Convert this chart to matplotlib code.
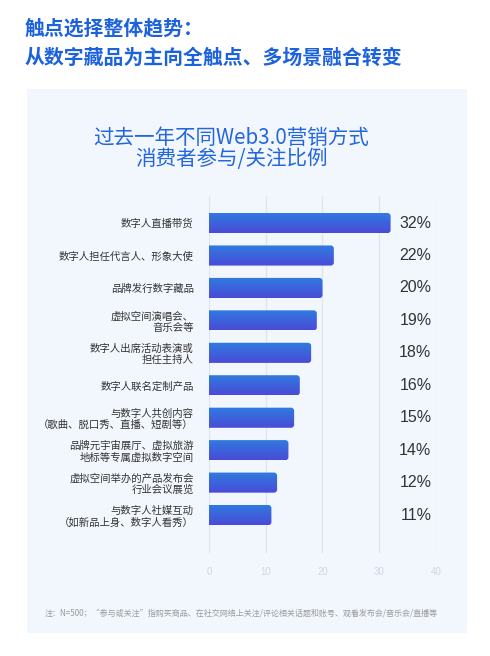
import matplotlib.pyplot as plt
import numpy as np
from matplotlib.patches import FancyBboxPatch, Rectangle
from matplotlib.colors import LinearSegmentedColormap

# data
categories = [
    "数字人直播带货",
    "数字人担任代言人、形象大使",
    "品牌发行数字藏品",
    "虚拟空间演唱会、\n音乐会等",
    "数字人出席活动表演或\n担任主持人",
    "数字人联名定制产品",
    "与数字人共创内容\n（歌曲、脱口秀、直播、短剧等）",
    "品牌元宇宙展厅、虚拟旅游\n地标等专属虚拟数字空间",
    "虚拟空间举办的产品发布会\n行业会议展览",
    "与数字人社媒互动\n（如新品上身、数字人看秀）",
]
values = [32, 22, 20, 19, 18, 16, 15, 14, 12, 11]
xticks = [0, 10, 20, 30, 40]

cjk = ["Noto Sans CJK SC", "DejaVu Sans"]
num = ["Liberation Sans", "Noto Sans CJK SC"]
plt.rcParams["font.family"] = cjk

fig = plt.figure(figsize=(4.9, 6.56), dpi=100)

# light panel behind the chart
fig.patches.append(Rectangle((0.0551, 0.035), 0.8979, 0.8293, transform=fig.transFigure,
                             facecolor="#f2f7fe", edgecolor="none", zorder=-5))

# header
fig.text(0.051, 0.958, "触点选择整体趋势：", fontsize=14.3, fontweight="bold",
         color="#1b62dc", va="center", ha="left")
fig.text(0.051, 0.913, "从数字藏品为主向全触点、多场景融合转变", fontsize=14.3,
         fontweight="bold", color="#1b62dc", va="center", ha="left")

# chart title
fig.text(0.472, 0.790, "过去一年不同Web3.0营销方式", fontsize=14.8, color="#2366de",
         ha="center", va="center")
fig.text(0.472, 0.757, "消费者参与/关注比例", fontsize=14.8, color="#2366de",
         ha="center", va="center")

ax = fig.add_axes([0.4265, 0.157, 0.4633, 0.544])
ax.set_facecolor("none")

cmap = LinearSegmentedColormap.from_list("bar", ["#2f7ce0", "#4a4bd7"])
grad = np.linspace(0, 1, 64).reshape(-1, 1)
bar_h = 0.62
ypos = np.arange(len(values))
for y, v in zip(ypos, values):
    clip = FancyBboxPatch((-1, y - bar_h / 2), v + 1, bar_h,
                          boxstyle="round,pad=0,rounding_size=0.55",
                          mutation_aspect=0.17, facecolor="none",
                          edgecolor="none", transform=ax.transData)
    ax.add_patch(clip)
    im = ax.imshow(grad, cmap=cmap, aspect="auto", zorder=3,
                   extent=[0, v, y + bar_h / 2, y - bar_h / 2])
    im.set_clip_path(clip)
    ax.text(39.2, y, f"{v}%", ha="right", va="center", fontsize=11.5,
            color="#333333", family=num)

ax.set_xlim(0, 40)
ax.set_ylim(10.17, -0.83)
ax.set_xticks(xticks)
ax.set_xticklabels([str(t) for t in xticks], family=num)
ax.tick_params(axis="x", length=0, pad=10, labelsize=7, labelcolor="#cfd6e4")
ax.set_yticks(ypos)
ax.set_yticklabels(categories, fontsize=7.5, color="#333333", linespacing=1.15)
ax.tick_params(axis="y", length=0, pad=11)
ax.grid(axis="x", color="#dfe4ee", linewidth=0.9, zorder=0)
ax.set_axisbelow(True)
for s in ax.spines.values():
    s.set_visible(False)

fig.text(0.092, 0.065,
         "注：N=500；“参与或关注”指购买商品、在社交网络上关注/评论相关话题和账号、观看发布会/音乐会/直播等",
         fontsize=5.8, color="#9a9a9a", ha="left", va="center")

fig.savefig("out.png", dpi=100)
